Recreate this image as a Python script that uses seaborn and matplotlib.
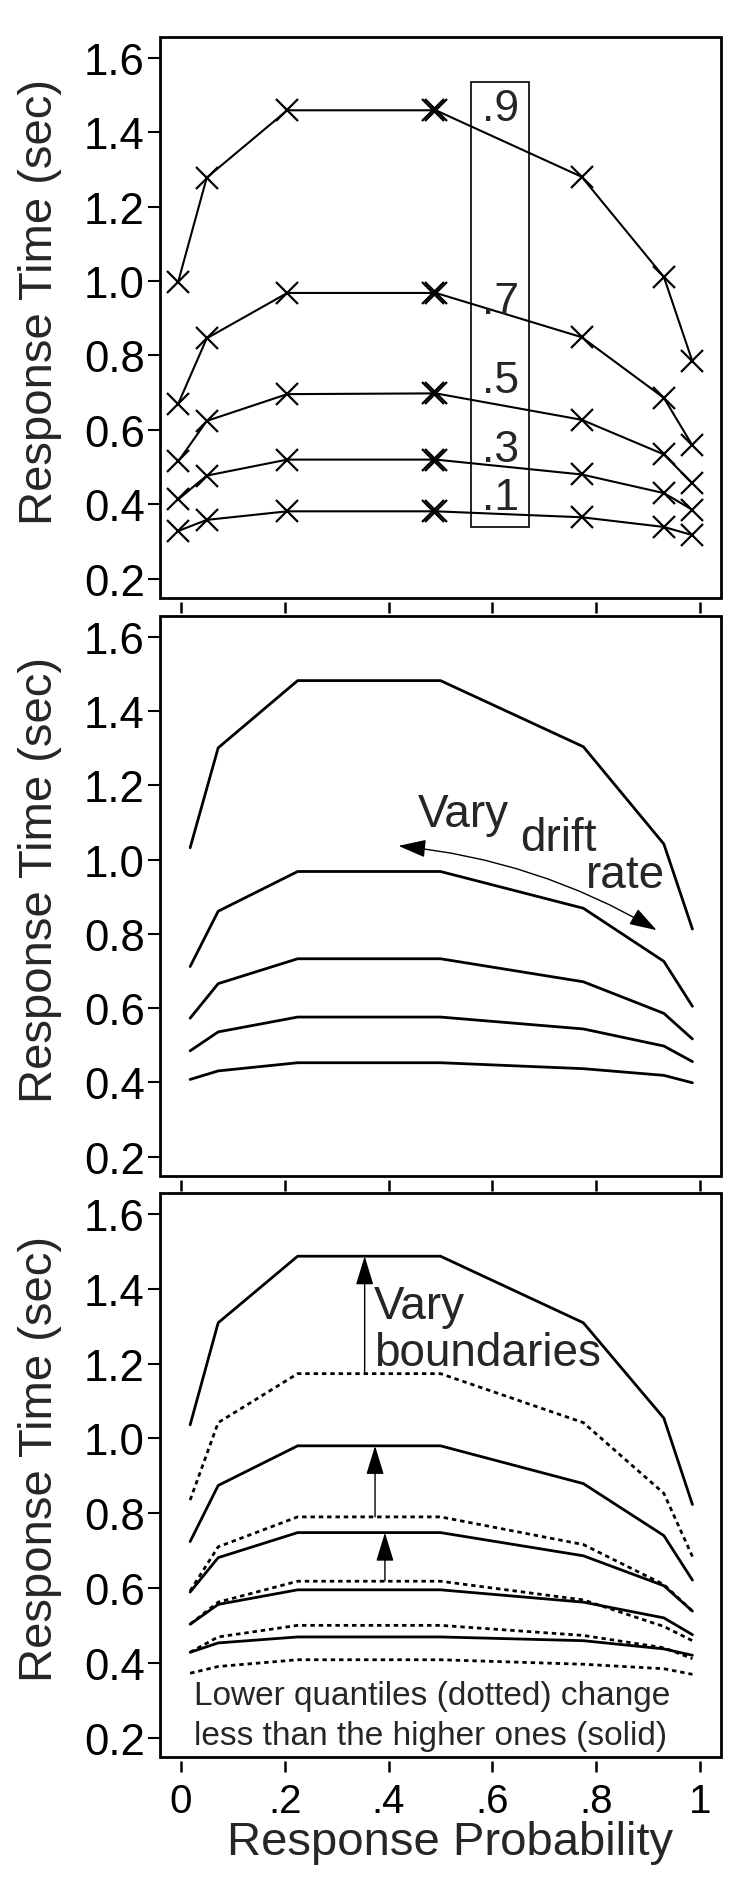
import matplotlib
matplotlib.use("Agg")
import matplotlib.pyplot as plt
import seaborn as sns
from matplotlib.patches import Rectangle, FancyArrowPatch, ArrowStyle

# ---- data ---------------------------------------------------------------
quantile_labels = [".1", ".3", ".5", ".7", ".9"]

# top panel: observed quantile RTs (X marks); two conditions sit near p=.49
x_data = [-0.005, 0.05, 0.205, 0.485, 0.491, 0.772, 0.93, 0.985]
data_q1 = [0.328, 0.358, 0.381, 0.381, 0.381, 0.365, 0.339, 0.317]
data_q3 = [0.413, 0.477, 0.520, 0.520, 0.520, 0.480, 0.430, 0.385]
data_q5 = [0.515, 0.624, 0.696, 0.698, 0.698, 0.627, 0.534, 0.456]
data_q7 = [0.670, 0.846, 0.968, 0.968, 0.968, 0.849, 0.686, 0.558]
data_q9 = [0.998, 1.278, 1.459, 1.459, 1.459, 1.280, 1.011, 0.784]

# middle + bottom panels: model predictions
x_model = [0.018, 0.072, 0.225, 0.500, 0.775, 0.930, 0.985]
drift_q1 = [0.408, 0.431, 0.453, 0.453, 0.437, 0.419, 0.399]
drift_q3 = [0.485, 0.536, 0.576, 0.576, 0.544, 0.498, 0.456]
drift_q5 = [0.573, 0.666, 0.733, 0.733, 0.671, 0.586, 0.517]
drift_q7 = [0.712, 0.861, 0.968, 0.968, 0.869, 0.726, 0.605]
drift_q9 = [1.032, 1.301, 1.482, 1.482, 1.304, 1.042, 0.813]

wide_q1 = [0.428, 0.453, 0.469, 0.469, 0.459, 0.437, 0.420]
wide_q3 = [0.503, 0.556, 0.595, 0.595, 0.562, 0.520, 0.475]
wide_q5 = [0.589, 0.681, 0.748, 0.748, 0.686, 0.606, 0.538]
wide_q7 = [0.724, 0.874, 0.980, 0.980, 0.879, 0.740, 0.621]
wide_q9 = [1.036, 1.309, 1.487, 1.487, 1.309, 1.054, 0.823]

narrow_q1 = [0.372, 0.390, 0.408, 0.408, 0.396, 0.384, 0.369]
narrow_q3 = [0.428, 0.469, 0.500, 0.500, 0.473, 0.440, 0.411]
narrow_q5 = [0.503, 0.562, 0.618, 0.618, 0.568, 0.497, 0.459]
narrow_q7 = [0.592, 0.710, 0.790, 0.790, 0.716, 0.609, 0.538]
narrow_q9 = [0.835, 1.042, 1.173, 1.173, 1.042, 0.853, 0.684]

x_ticks = [0, 0.2, 0.4, 0.6, 0.8, 1.0]
x_ticklabels = ["0", ".2", ".4", ".6", ".8", "1"]
y_ticks = [0.2, 0.4, 0.6, 0.8, 1.0, 1.2, 1.4, 1.6]

# ---- style ---------------------------------------------------------------
sns.set_style("ticks")
plt.rcParams["font.family"] = ["Liberation Sans", "DejaVu Sans"]

fig = plt.figure(figsize=(7.5, 18.81), dpi=100)
W, H = 750.0, 1881.0
frames = [(38, 599), (617, 1177), (1194, 1758)]  # top/bottom px of each frame
axes = []
for top, bot in frames:
    axes.append(fig.add_axes([160 / W, 1 - bot / H, 561 / W, (bot - top) / H]))


def style_axes(ax, show_xlabels):
    ax.set_xlim(-0.04, 1.04)
    ax.set_ylim(0.148, 1.656)
    for sp in ax.spines.values():
        sp.set_visible(False)
    # ticks sit a little below the closed frame
    ax.spines["bottom"].set_position(("outward", 3))
    ax.add_patch(Rectangle((0, 0), 1, 1, transform=ax.transAxes, fill=False,
                           lw=2.0, ec="black", clip_on=False, zorder=5))
    ax.set_yticks(y_ticks)
    ax.set_yticklabels([f"{v:.1f}" for v in y_ticks])
    ax.set_xticks(x_ticks)
    ax.set_xticklabels(x_ticklabels if show_xlabels else [])
    ax.tick_params(axis="y", direction="out", length=8.5, width=1.5, pad=2.5,
                   labelsize=31.5, colors="black")
    ax.tick_params(axis="x", direction="out", length=8, width=1.8, pad=7,
                   labelsize=29, colors="black")
    ax.set_ylabel("Response Time (sec)", fontsize=34)
    ax.yaxis.set_label_coords(-0.175, 0.53)
    ax.set_xlabel("")


# ---- top panel: data ----------------------------------------------------
ax = axes[0]
for vals in [data_q1, data_q3, data_q5, data_q7, data_q9]:
    sns.lineplot(x=x_data, y=vals, ax=ax, color="black", lw=1.5,
                 marker="x", markersize=16, mew=1.6, mec="black",
                 estimator=None, sort=False, legend=False)
ax.add_patch(Rectangle((0.558, 0.339), 0.113, 1.195, fill=False, lw=1.2,
                       ec="black", zorder=4))
for lab, yb in zip(quantile_labels, [0.387, 0.515, 0.701, 0.915, 1.432]):
    ax.text(0.615, yb, lab, ha="center", va="baseline", fontsize=32)
style_axes(ax, False)

# ---- middle panel: vary drift rate --------------------------------------
ax = axes[1]
for vals in [drift_q1, drift_q3, drift_q5, drift_q7, drift_q9]:
    sns.lineplot(x=x_model, y=vals, ax=ax, color="black", lw=2.0,
                 estimator=None, sort=False, legend=False)
ax.text(0.456, 1.090, "Vary", ha="left", va="baseline", fontsize=33)
ax.text(0.653, 1.026, "drift", ha="left", va="baseline", fontsize=33)
ax.text(0.779, 0.925, "rate", ha="left", va="baseline", fontsize=33)
ax.add_patch(FancyArrowPatch(
    (0.419, 1.037), (0.916, 0.810), connectionstyle="arc3,rad=-0.11",
    arrowstyle=ArrowStyle("<|-|>", head_length=1.7, head_width=0.55),
    mutation_scale=10, lw=1.0, color="black", shrinkA=0, shrinkB=0))
style_axes(ax, False)

# ---- bottom panel: vary boundaries --------------------------------------
ax = axes[2]
for vals in [narrow_q1, narrow_q3, narrow_q5, narrow_q7, narrow_q9]:
    sns.lineplot(x=x_model, y=vals, ax=ax, color="black", lw=2.0,
                 linestyle=(0, (1.6, 1.4)), estimator=None, sort=False,
                 legend=False)
for vals in [wide_q1, wide_q3, wide_q5, wide_q7, wide_q9]:
    sns.lineplot(x=x_model, y=vals, ax=ax, color="black", lw=2.0,
                 estimator=None, sort=False, legend=False)
for xa, lo, hi in [(0.354, narrow_q9[3], wide_q9[3]),
                   (0.374, narrow_q7[3], wide_q7[3]),
                   (0.393, narrow_q5[3], wide_q5[3])]:
    ax.add_patch(FancyArrowPatch(
        (xa, lo), (xa, hi),
        arrowstyle=ArrowStyle("-|>", head_length=1.8, head_width=0.55),
        mutation_scale=10, lw=1.0, color="black", shrinkA=0, shrinkB=0))
ax.text(0.372, 1.321, "Vary", ha="left", va="baseline", fontsize=33)
ax.text(0.372, 1.197, "boundaries", ha="left", va="baseline", fontsize=33)
ax.text(0.025, 0.289, "Lower quantiles (dotted) change", ha="left",
        va="baseline", fontsize=24)
ax.text(0.025, 0.182, "less than the higher ones (solid)", ha="left",
        va="baseline", fontsize=24)
style_axes(ax, True)
ax.set_xlabel("Response Probability", fontsize=34)
ax.xaxis.set_label_coords(0.517, -0.112)

fig.savefig("out.png", dpi=100)
